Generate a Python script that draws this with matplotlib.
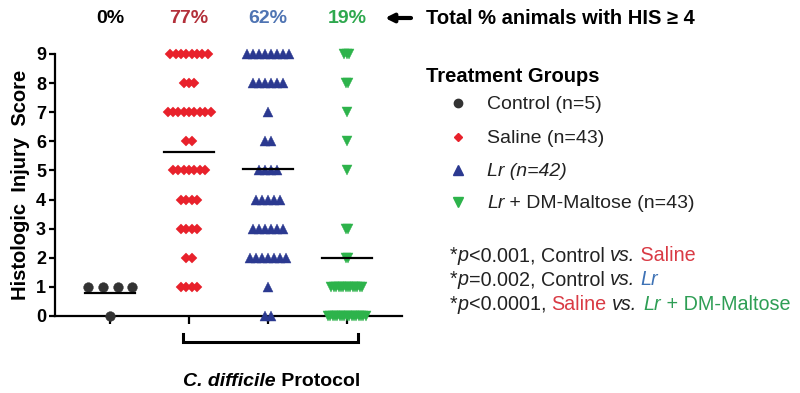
import matplotlib
matplotlib.use("Agg")
import matplotlib.pyplot as plt
import matplotlib.transforms as mtransforms
import numpy as np

plt.rcParams["font.family"] = ["Liberation Sans", "DejaVu Sans"]

# --- data: number of animals at each histologic injury score (0..9) -------- #
scores = np.arange(10)
groups = ["Control", "Saline", "Lr", "Lr + DM-Maltose"]
control_counts = [1, 4, 0, 0, 0, 0, 0, 0, 0, 0]
saline_counts = [0, 4, 2, 4, 4, 7, 2, 9, 3, 8]
lr_counts = [2, 1, 7, 6, 5, 4, 2, 1, 6, 8]
dm_counts = [17, 14, 2, 2, 0, 1, 1, 1, 2, 3]
counts = [control_counts, saline_counts, lr_counts, dm_counts]

markers = ["o", "D", "^", "v"]
msizes = [7, 4.8, 7.5, 7.5]
spacing = [0.186, 0.068, 0.075, 0.03]
mcolors = ["#333333", "#E8212B", "#2B3990", "#2DB34B"]
pct_colors = ["#000000", "#B3303A", "#4F74B3", "#2EA84E"]

W, H = 800, 393
fig = plt.figure(figsize=(W / 100, H / 100), dpi=100)
ax = fig.add_axes([55 / W, 1 - 316 / H, (402 - 55) / W, (316 - 54) / H])


def fx(x):
    return x / W


def fy(y):
    return 1 - y / H


for i, cnt in enumerate(counts):
    xs, ys = [], []
    for s, n in zip(scores, cnt):
        if n == 0:
            continue
        off = (np.arange(n) - (n - 1) / 2) * spacing[i]
        xs.extend(i + off)
        ys.extend([s] * n)
    ax.plot(xs, ys, ls="none", marker=markers[i], ms=msizes[i], color=mcolors[i],
            mec=mcolors[i], mew=0.3, clip_on=False, zorder=4)
    mean = np.dot(scores, cnt) / sum(cnt)
    ax.plot([i - 0.32, i + 0.32], [mean, mean], color="black", lw=1.6,
            clip_on=False, zorder=5)
    pct = 100 * sum(cnt[4:]) / sum(cnt)
    ax.text(i, 1.137, f"{pct:.0f}%", transform=mtransforms.blended_transform_factory(
        ax.transData, ax.transAxes), ha="center", va="center", fontsize=14,
        fontweight="bold", color=pct_colors[i])

ax.set_xlim(-0.7, 3.7)
ax.set_ylim(0, 9)
ax.set_yticks(range(10))
ax.set_xticks(range(4))
ax.set_xticklabels([])
ax.spines[["top", "right"]].set_visible(False)
ax.spines[["left", "bottom"]].set_linewidth(1.6)
ax.tick_params(axis="y", length=4.5, width=1.6, labelsize=13, pad=2)
ax.tick_params(axis="x", length=6, width=1.6)
for lab in ax.get_yticklabels():
    lab.set_fontweight("bold")
ax.set_ylabel("Histologic  Injury  Score", fontsize=14.5, fontweight="bold", labelpad=4)

# bracket under the C. difficile groups
ax.plot([0.924, 0.924, 3.14, 3.14], [-0.62, -0.89, -0.89, -0.62], color="black",
        lw=2.2, clip_on=False, solid_joinstyle="miter")
r = fig.canvas.get_renderer()
t1 = fig.text(fx(183), fy(382), "C. difficile", fontsize=14, fontweight="bold",
              style="italic", va="center")
wpx = t1.get_window_extent(r).width
fig.text(fx(183) + wpx / W, fy(382), " Protocol", fontsize=14, fontweight="bold",
         va="center")

# header arrow + text
ax.annotate("", xy=(385, H - 18), xytext=(411, H - 18), xycoords="figure pixels",
            arrowprops=dict(arrowstyle="-|>", lw=3, color="black", mutation_scale=12,
                            shrinkA=0, shrinkB=0),
            annotation_clip=False)
fig.text(fx(426), fy(18), "Total % animals with HIS \u2265 4", fontsize=14.5,
         fontweight="bold", va="center")

# legend
fig.text(fx(426), fy(76), "Treatment Groups", fontsize=14.5, fontweight="bold",
         va="center")
leg_y = [103, 137, 170, 202]
leg_ms = [6, 4, 7, 7]
for i in range(4):
    fig.add_artist(plt.Line2D([fx(458)], [fy(leg_y[i])], marker=markers[i],
                              ms=leg_ms[i], color=mcolors[i], ls="none"))


def rich(x, y, pieces, size=14):
    for s, color, style in pieces:
        t = fig.text(fx(x), fy(y), s, color=color, style=style, fontsize=size,
                     va="baseline")
        x += t.get_window_extent(r).width


legend_rows = [
    [("Control (n=5)", "#222222", "normal")],
    [("Saline (n=43)", "#222222", "normal")],
    [("Lr (n=42)", "#222222", "italic")],
    [("Lr", "#222222", "italic"), (" + DM-Maltose (n=43)", "#222222", "normal")],
]
for y, row in zip(leg_y, legend_rows):
    rich(487, y + 6, row)

red, blue, green, blk = "#D93A44", "#3E72B5", "#2E9E55", "#222222"
pval_rows = [
    [("*", blk, "normal"), ("p", blk, "italic"), ("<0.001, Control ", blk, "normal"),
     ("vs.", blk, "italic"), (" Saline", red, "normal")],
    [("*", blk, "normal"), ("p", blk, "italic"), ("=0.002, Control ", blk, "normal"),
     ("vs.", blk, "italic"), (" ", blk, "normal"), ("Lr", blue, "italic")],
    [("*", blk, "normal"), ("p", blk, "italic"), ("<0.0001, ", blk, "normal"),
     ("Saline", red, "normal"), (" ", blk, "normal"), ("vs.", blk, "italic"),
     (" ", blk, "normal"), ("Lr", green, "italic"), (" + DM-Maltose", green, "normal")],
]
for y, row in zip([260, 284, 309], pval_rows):
    rich(450, y + 1, row, size=14.2)

fig.savefig("out.png", dpi=100)
